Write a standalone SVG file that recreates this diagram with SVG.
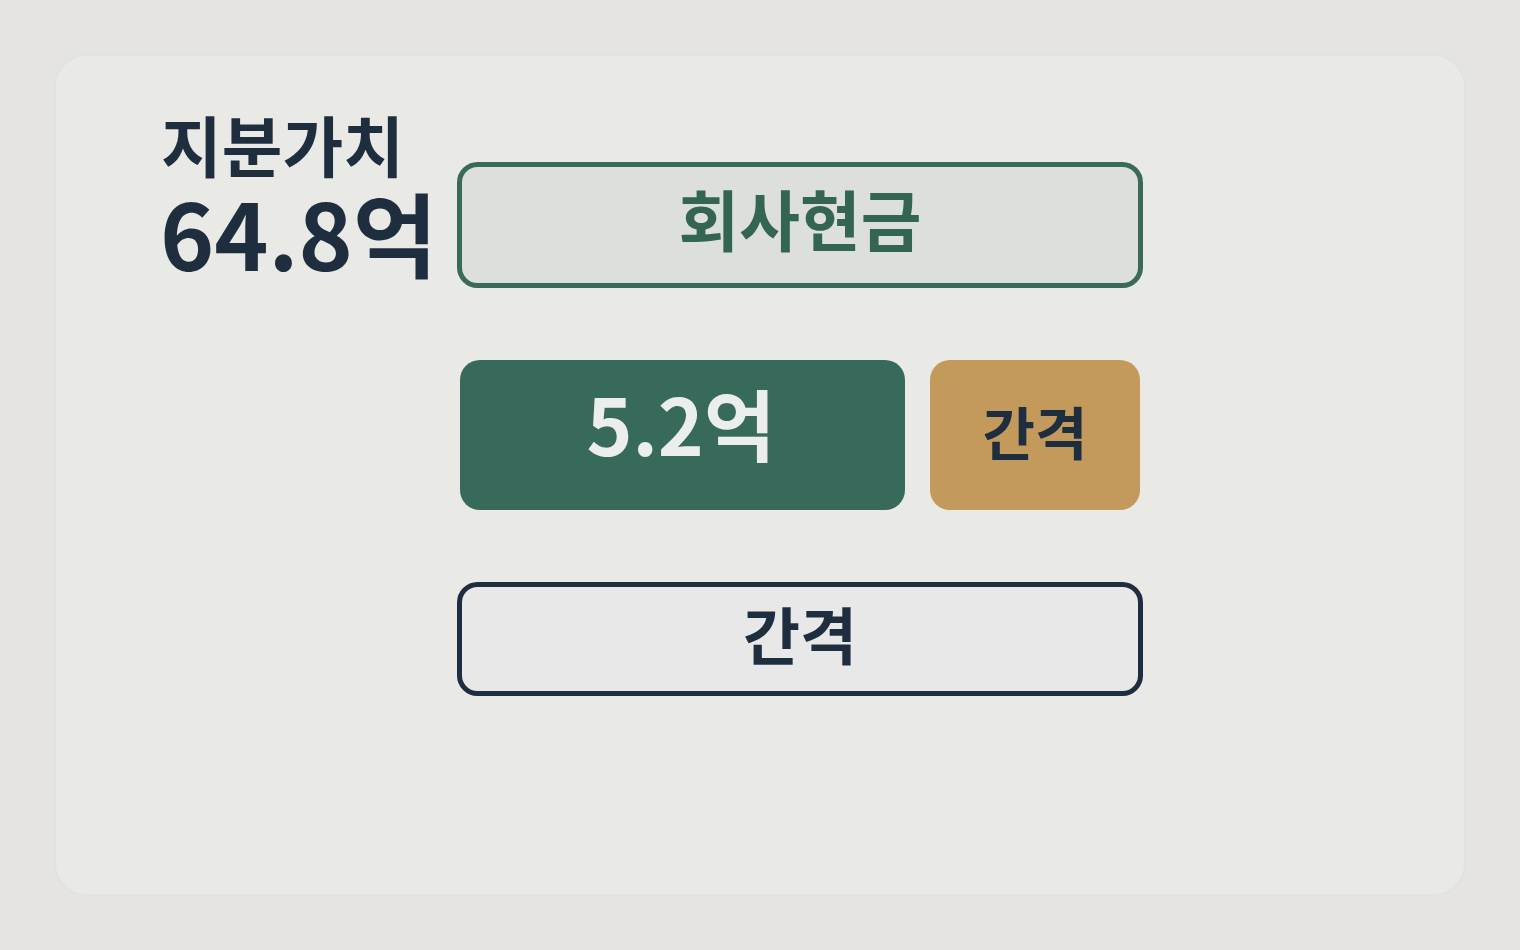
<svg xmlns="http://www.w3.org/2000/svg" width="1520" height="950" viewBox="0 0 1520 950">
<style>
.t{font-family:"Noto Sans CJK KR","Noto Sans",sans-serif;font-weight:700;text-anchor:middle}
.dark{fill:#1f2e3f}
</style>
<rect x="0" y="0" width="1520" height="950" fill="#e5e4e0"/>
<rect x="55" y="55" width="1410" height="840" rx="32" fill="#e9e9e5" stroke="#e2e2de" stroke-width="2"/>
<g id="title">
<text x="161" y="172" class="t dark" style="text-anchor:start" font-size="66">지분가치</text>
<text x="160" y="271" class="t dark" style="text-anchor:start" font-size="92">64.8억</text>
</g>
<g id="connectors"></g>
<g id="cash">
<rect x="459.5" y="164.5" width="681" height="121" rx="18" fill="#dcdfdc" stroke="#3a6b58" stroke-width="5"/>
<text x="800" y="246" class="t" fill="#346553" font-size="66">회사현금</text>
</g>
<g id="value">
<rect x="460" y="360" width="445" height="150" rx="20" fill="#376a5a"/>
<text x="681" y="456" class="t" fill="#eceeed" font-size="78" style="font-weight:600">5.2억</text>
</g>
<g id="gap1">
<rect x="930" y="360" width="210" height="150" rx="20" fill="#c39a5b"/>
<text x="1035" y="455" class="t dark" font-size="57">간격</text>
</g>
<g id="gap2">
<rect x="459.5" y="584.5" width="681" height="109" rx="18" fill="#e8e8e8" stroke="#1f2e3f" stroke-width="5"/>
<text x="800" y="660" class="t dark" font-size="62">간격</text>
</g>
</svg>
